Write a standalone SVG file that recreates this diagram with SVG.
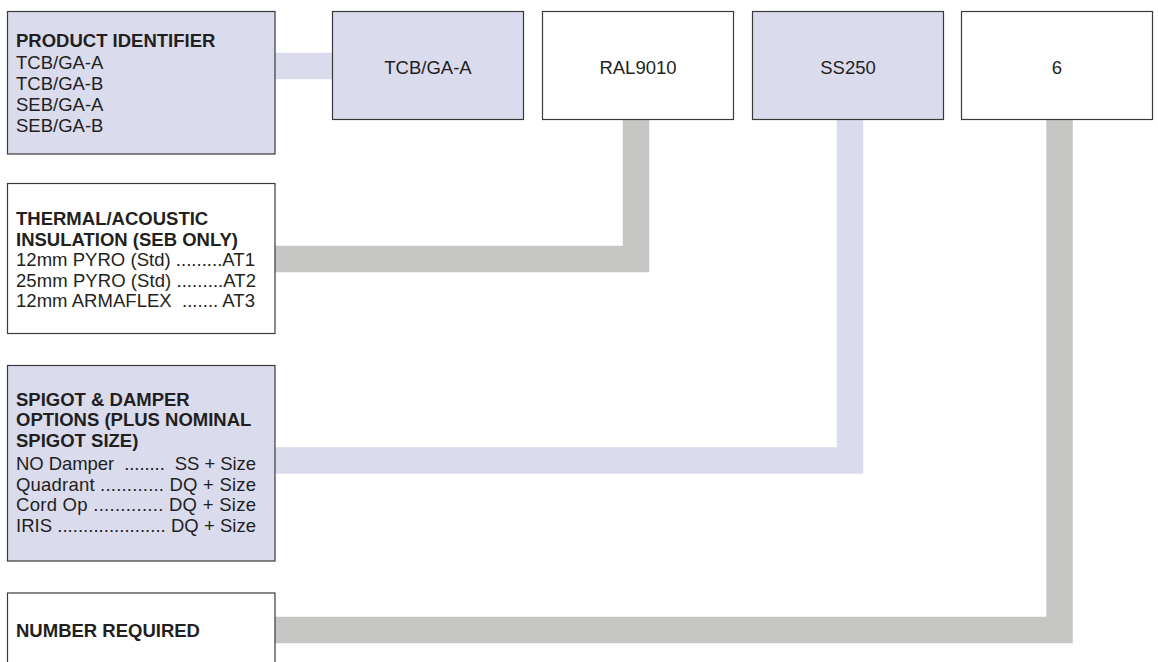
<svg xmlns="http://www.w3.org/2000/svg" width="1158" height="662" viewBox="0 0 1158 662">
<style>
.bx{stroke:#3a3a3a;stroke-width:1.2}
.lav{fill:#dadbed}
.wh{fill:#ffffff}
.t{font-family:"Liberation Sans",Arial,sans-serif;font-size:18.5px;fill:#231f20}
.b{font-weight:bold}
.c{text-anchor:middle}
.cn{fill:none;stroke-width:26.5;stroke-linejoin:miter}
.cl{stroke:#dadbed}
.cg{stroke:#c6c6c4}
</style>
<rect width="1158" height="662" fill="#ffffff"/>
<g id="connectors">
<path class="cn cl" d="M275,66 H333"/>
<path class="cn cg" d="M275,259 H636 V119"/>
<path class="cn cl" d="M275,460.5 H850 V119"/>
<path class="cn cg" d="M275,630 H1059.5 V119"/>
</g>
<g id="product-identifier">
<rect class="bx lav" x="7.5" y="11.5" width="267.5" height="142.5"/>
<text class="t b" x="16" y="47">PRODUCT IDENTIFIER</text>
<text class="t" x="16" y="69">TCB/GA-A</text>
<text class="t" x="16" y="90">TCB/GA-B</text>
<text class="t" x="16" y="111">SEB/GA-A</text>
<text class="t" x="16" y="132">SEB/GA-B</text>
</g>
<g id="thermal">
<rect class="bx wh" x="7.5" y="183.5" width="267.5" height="150"/>
<text class="t b" x="16" y="225">THERMAL/ACOUSTIC</text>
<text class="t b" x="16" y="245.5">INSULATION (SEB ONLY)</text>
<text class="t" x="16" y="266" textLength="239" lengthAdjust="spacing" xml:space="preserve">12mm PYRO (Std) .........AT1</text>
<text class="t" x="16" y="286.5" textLength="240" lengthAdjust="spacing" xml:space="preserve">25mm PYRO (Std) .........AT2</text>
<text class="t" x="16" y="307" textLength="239" lengthAdjust="spacing" xml:space="preserve">12mm ARMAFLEX  ....... AT3</text>
</g>
<g id="spigot">
<rect class="bx lav" x="7.5" y="365.5" width="267.5" height="195.5"/>
<text class="t b" x="16" y="405.5">SPIGOT &amp; DAMPER</text>
<text class="t b" x="16" y="426">OPTIONS (PLUS NOMINAL</text>
<text class="t b" x="16" y="446.5">SPIGOT SIZE)</text>
<text class="t" x="16" y="470" textLength="240" lengthAdjust="spacing" xml:space="preserve">NO Damper  ........  SS + Size</text>
<text class="t" x="16" y="490.5" textLength="240" lengthAdjust="spacing" xml:space="preserve">Quadrant ............ DQ + Size</text>
<text class="t" x="16" y="511" textLength="240" lengthAdjust="spacing" xml:space="preserve">Cord Op ............. DQ + Size</text>
<text class="t" x="16" y="531.5" textLength="240" lengthAdjust="spacing" xml:space="preserve">IRIS ..................... DQ + Size</text>
</g>
<g id="number-required">
<rect class="bx wh" x="7.5" y="593" width="267.5" height="100"/>
<text class="t b" x="16" y="637">NUMBER REQUIRED</text>
</g>
<g id="box-product">
<rect class="bx lav" x="332.5" y="11.5" width="191" height="108"/>
<text class="t c" x="428" y="74">TCB/GA-A</text>
</g>
<g id="box-colour">
<rect class="bx wh" x="542.5" y="11.5" width="191" height="108"/>
<text class="t c" x="638" y="74">RAL9010</text>
</g>
<g id="box-spigot">
<rect class="bx lav" x="752.5" y="11.5" width="191" height="108"/>
<text class="t c" x="848" y="74">SS250</text>
</g>
<g id="box-number">
<rect class="bx wh" x="961.5" y="11.5" width="191" height="108"/>
<text class="t c" x="1057" y="74">6</text>
</g>
</svg>
